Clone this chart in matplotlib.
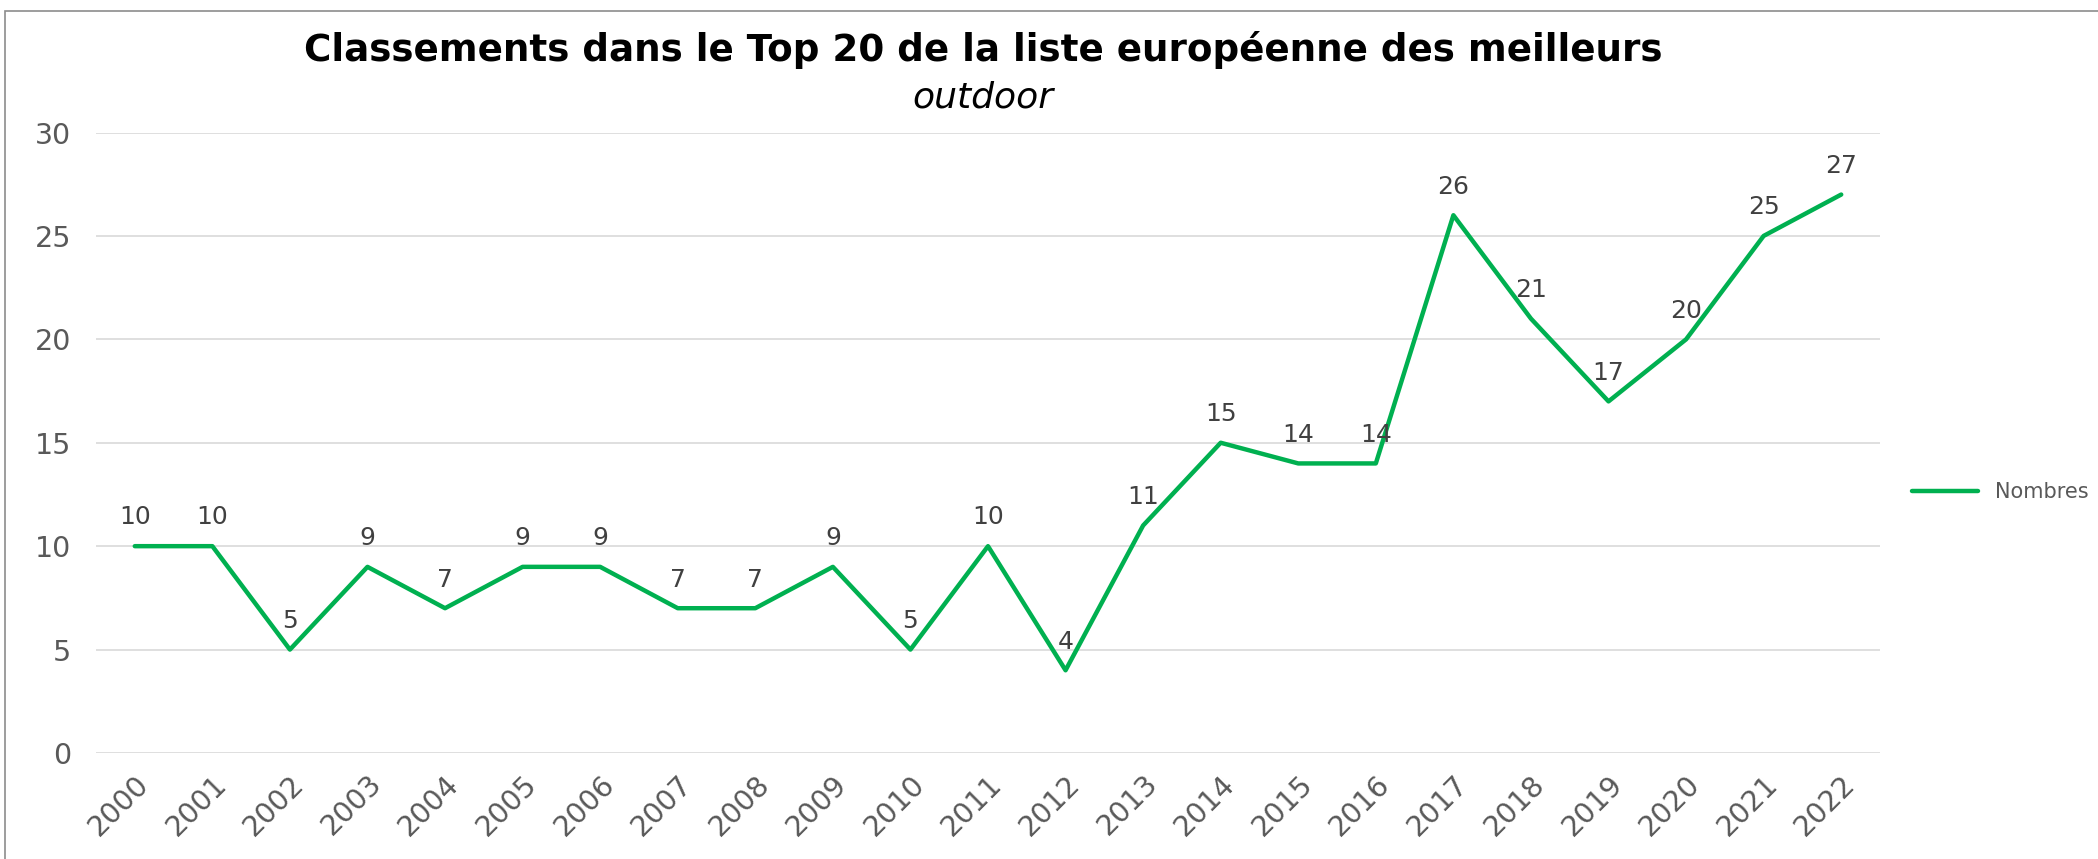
import matplotlib
matplotlib.use("Agg")
import matplotlib.pyplot as plt
from matplotlib.patches import Rectangle

years = [str(y) for y in range(2000, 2023)]
values = [10, 10, 5, 9, 7, 9, 9, 7, 7, 9, 5, 10, 4, 11, 15, 14, 14, 26, 21, 17, 20, 25, 27]
yticks = [0, 5, 10, 15, 20, 25, 30]
title = "Classements dans le Top 20 de la liste européenne des meilleurs"
subtitle = "outdoor"
series_name = "Nombres"

W, H = 2098, 859
fig = plt.figure(figsize=(W / 100, H / 100), dpi=100)
fig.patch.set_facecolor("white")

# chart border (top and left visible)
fig.add_artist(Rectangle((5 / W, -0.1), 1.2, 1 - 11 / H + 0.1, transform=fig.transFigure,
                         fill=False, edgecolor="#8c8c8c", linewidth=1.2))

ax = fig.add_axes([96 / W, 1 - 753 / H, (1880 - 96) / W, (753 - 132.5) / H])
x = list(range(len(years)))
line, = ax.plot(x, values, color="#00B050", linewidth=3.2, solid_capstyle="round",
                solid_joinstyle="round", label=series_name, zorder=3)
for xi, v in zip(x, values):
    ax.annotate(str(v), (xi, v), xytext=(0, 12), textcoords="offset points",
                ha="center", va="bottom", fontsize=18, color="#404040")

ax.set_xlim(-0.5, len(years) - 0.5)
ax.set_ylim(0, 30)
ax.set_yticks(yticks)
ax.set_yticklabels([str(t) for t in yticks], fontsize=20.5, color="#595959")
ax.set_xticks(x)
ax.set_xticklabels(years, rotation=45, ha="right", rotation_mode="anchor",
                   fontsize=20.5, color="#595959")
ax.tick_params(axis="both", length=0)
ax.tick_params(axis="y", pad=18)
ax.tick_params(axis="x", pad=12)
ax.grid(axis="y", color="#d9d9d9", linewidth=1.2)
ax.set_axisbelow(True)
for s in ax.spines.values():
    s.set_visible(False)

fig.text(983 / W, 1 - 50 / H, title, ha="center", va="center", fontsize=26.8,
         fontweight="bold", color="black")
fig.text(983 / W, 1 - 97 / H, subtitle, ha="center", va="center", fontsize=26,
         style="italic", color="black")

fig.legend(handles=[line], labels=[series_name], loc="center left",
           bbox_to_anchor=(1893 / W, 1 - 492 / H), frameon=False, fontsize=15,
           labelcolor="#595959", handlelength=3.2, handletextpad=0.8)

fig.savefig("out.png", dpi=100)
